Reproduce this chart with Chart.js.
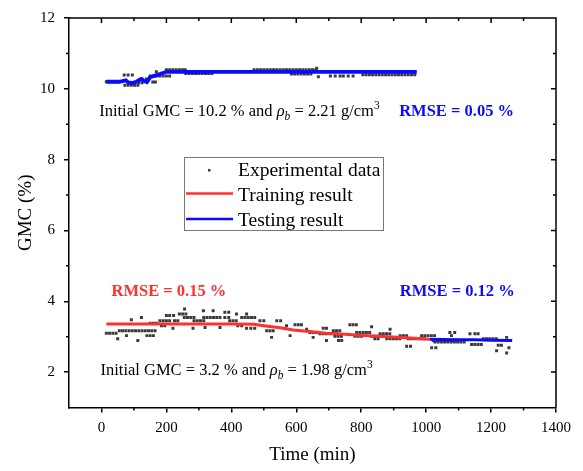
<!DOCTYPE html>
<html>
<head>
<meta charset="utf-8">
<script src="https://cdn.jsdelivr.net/npm/chart.js@4.4.4/dist/chart.umd.min.js"></script>
<style>
  html, body { margin: 0; padding: 0; background: #fff; }
  #wrap { width: 583px; height: 471px; }
</style>
</head>
<body>
<div id="wrap"><canvas id="chart"></canvas></div>
<script>
// ── Data ───────────────────────────────────────────────────────────────────
const xTicks = [0, 200, 400, 600, 800, 1000, 1200, 1400];
const xMinor = [100, 300, 500, 700, 900, 1100, 1300];
const yTicks = [2, 4, 6, 8, 10, 12];
const yMinor = [3, 5, 7, 9, 11];

// experimental points [time (min), GMC (%)], initial GMC 10.2 %
const expHigh = [
  [15,10.2],[25,10.2],[35,10.2],[45,10.2],[55,10.2],
  [70,10.39],[82,10.39],[95,10.39],
  [72,10.1],[82,10.1],[92,10.1],[102,10.1],[112,10.1],
  [85,10.17],[100,10.17],[115,10.17],[125,10.17],
  [125,10.28],[138,10.28],[158,10.19],[166,10.19],[169,10.48],
  [150,10.36],[160,10.36],[170,10.36],[180,10.36],[190,10.36],[200,10.36],[210,10.36],
  [200,10.54],[210,10.54],[220,10.54],[230,10.54],[240,10.54],[250,10.54],[258,10.54],
  [260,10.43],[270,10.43],[280,10.43],[290,10.43],[300,10.43],[310,10.43],[320,10.43],[330,10.43],[340,10.43],
  [470,10.54],[480,10.54],[490,10.54],[500,10.54],[510,10.54],[520,10.54],[530,10.54],[540,10.54],
  [550,10.54],[560,10.54],[570,10.54],[580,10.54],[590,10.54],[600,10.54],[610,10.54],[620,10.54],
  [630,10.54],[640,10.54],[650,10.54],[660,10.54],[663,10.58],
  [585,10.42],[595,10.42],[605,10.42],[615,10.42],[625,10.42],[635,10.42],[645,10.42],
  [668,10.34],
  [705,10.36],[720,10.36],[735,10.36],[745,10.36],[760,10.36],[775,10.36],
  [805,10.4],[815,10.4],[825,10.4],[835,10.4],[845,10.4],[855,10.4],[865,10.4],[875,10.4],[885,10.4],
  [895,10.4],[905,10.4],[915,10.4],[925,10.4],[935,10.4],[945,10.4],[955,10.4],[965,10.4],[965,10.47]
];

// experimental points [time (min), GMC (%)], initial GMC 3.2 %
const expLow = [
  [15,3.1],[25,3.1],[35,3.1],[45,3.1],[50,2.94],
  [55,3.17],[65,3.17],[75,3.17],[85,3.17],[95,3.17],[105,3.17],[115,3.17],[125,3.17],[135,3.17],[145,3.17],[155,3.17],[165,3.17],
  [77,3.03],[140,3.03],[150,3.03],[160,3.03],[112,2.89],[92,3.48],[123,3.54],
  [150,3.38],[160,3.38],[170,3.38],[185,3.31],[195,3.31],
  [180,3.45],[190,3.45],[200,3.45],[210,3.45],[200,3.6],[210,3.6],[222,3.6],
  [225,3.45],[235,3.45],[240,3.64],[250,3.64],[260,3.64],[256,3.78],[220,3.24],[282,3.24],
  [255,3.54],[265,3.54],[275,3.54],[285,3.54],[285,3.45],[295,3.45],[305,3.45],[315,3.45],
  [314,3.73],[344,3.73],[315,3.54],[325,3.54],[335,3.54],[345,3.54],[355,3.54],[365,3.54],
  [319,3.26],[365,3.26],[380,3.69],[392,3.69],[380,3.54],[392,3.54],
  [395,3.45],[405,3.45],[415,3.45],[416,3.64],[447,3.64],[420,3.31],[432,3.31],
  [432,3.54],[442,3.54],[452,3.54],[462,3.54],[472,3.54],[447,3.24],[460,3.24],[472,3.24],
  [488,3.45],[500,3.45],[509,3.17],[519,3.17],[529,3.17],[524,2.98],[540,3.45],[552,3.45],
  [570,3.31],[581,3.03],[596,3.34],[606,3.34],[616,3.34],[632,3.21],
  [642,3.12],[652,3.12],[662,3.12],[652,2.98],[683,3.24],[693,3.24],
  [673,3.08],[683,3.08],[693,3.08],[703,3.08],[713,3.08],[723,3.08],[693,2.89],
  [714,3.17],[724,3.17],[734,3.17],[719,3.01],[729,3.01],[739,3.01],[730,2.89],[740,2.89],
  [765,3.34],[775,3.34],[785,3.34],[786,3.12],[796,3.12],[806,3.12],[816,3.12],[826,3.12],
  [781,3.01],[791,3.01],[801,3.01],[832,3.28],[832,3.01],[842,3.01],[852,3.01],[842,2.94],[852,2.94],
  [858,3.08],[868,3.08],[878,3.08],[888,3.08],[889,3.21],
  [879,2.94],[889,2.94],[899,2.94],[909,2.94],[919,2.94],[920,3.03],[930,3.03],[940,3.03],
  [940,2.73],[952,2.73],[945,2.94],[955,2.94],[965,2.94],[975,2.94],[985,2.94],[995,2.94],
  [986,3.03],[996,3.03],[1006,3.03],[1016,3.03],[1026,3.03],[1017,2.69],[1030,2.69],
  [1022,2.89],[1032,2.89],[1042,2.89],[1052,2.89],[1062,2.89],[1072,2.89],[1082,2.89],[1092,2.89],
  [1027,2.85],[1037,2.85],[1047,2.85],[1057,2.85],[1067,2.85],[1077,2.85],[1087,2.85],[1097,2.85],[1107,2.85],[1117,2.85],
  [1073,3.12],[1088,3.12],[1078,3.03],[1135,3.08],[1150,3.08],[1160,3.08],
  [1140,2.78],[1150,2.78],[1160,2.78],[1170,2.78],
  [1176,2.94],[1186,2.94],[1196,2.94],[1206,2.94],[1216,2.94],[1222,2.76],[1232,2.76],
  [1217,2.6],[1248,2.98],[1248,2.54],[1255,2.69]
];

// model results [time (min), GMC (%)]
const trainLow = [
  [15,3.36],[100,3.36],[200,3.36],[300,3.36],[400,3.36],[470,3.35],[500,3.31],[550,3.25],
  [590,3.19],[650,3.14],[693,3.1],[750,3.07],[796,3.04],[850,3.01],[899,2.99],[950,2.96],[1010,2.93]
];
const testLow = [[1010,2.93],[1050,2.92],[1100,2.91],[1150,2.91],[1200,2.9],[1265,2.89]];
const testHigh = [
  [15,10.2],[55,10.2],[65,10.22],[75,10.24],[82,10.18],[95,10.16],[107,10.2],[122,10.28],
  [132,10.22],[140,10.19],[150,10.33],[175,10.4],[200,10.48],[971,10.48]
];

// ── Style ──────────────────────────────────────────────────────────────────
const SERIF = '"Liberation Serif", "Times New Roman", serif';
const GRAY = '#3a3a3a';
const RED  = '#ff3030';
const BLUE = '#0a0aff';

const pts = arr => arr.map(([x, y]) => ({ x, y }));

const scatterSet = (data) => ({
  data: pts(data), showLine: false, pointStyle: 'rect',
  pointRadius: 2.1, backgroundColor: GRAY, borderWidth: 0, order: 3,
});
const lineSet = (data, color, width) => ({
  data: pts(data), showLine: true, borderColor: color, borderWidth: width,
  pointRadius: 0, tension: 0, order: 1,
});

// ── Decorations: frame, minor ticks, titles, notes, legend ─────────────────
function drawRich(ctx, x, y, parts) {
  let cx = x;
  for (const p of parts) {
    ctx.font = p.font;
    ctx.fillStyle = p.color || '#000';
    ctx.fillText(p.t, cx, y + (p.dy || 0));
    cx += ctx.measureText(p.t).width;
  }
}

const notes = [
  { x: -7, y: 9.24, top: '10.2', rho: '2.21' },
  { x: -3, y: 1.91, top: '3.2',  rho: '1.98' },
];
const rmse = [
  { x: 917, y: 9.24, t: 'RMSE = 0.05 %', color: BLUE },
  { x: 31,  y: 4.15, t: 'RMSE = 0.15 %', color: RED },
  { x: 919, y: 4.15, t: 'RMSE = 0.12 %', color: BLUE },
];

const decor = {
  id: 'decor',
  afterDraw(chart) {
    const { ctx, chartArea: a, scales: { x, y } } = chart;
    ctx.save();
    ctx.strokeStyle = '#000';
    ctx.lineWidth = 1.5;
    ctx.beginPath();
    ctx.moveTo(a.left, a.top); ctx.lineTo(a.right, a.top); ctx.lineTo(a.right, a.bottom);
    xTicks.forEach(v => { const p = x.getPixelForValue(v); ctx.moveTo(p, a.top); ctx.lineTo(p, a.top + 5); });
    xMinor.forEach(v => {
      const p = x.getPixelForValue(v);
      ctx.moveTo(p, a.top); ctx.lineTo(p, a.top + 3);
      ctx.moveTo(p, a.bottom); ctx.lineTo(p, a.bottom + 3);
    });
    yTicks.forEach(v => { const p = y.getPixelForValue(v); ctx.moveTo(a.right, p); ctx.lineTo(a.right - 5, p); });
    yMinor.forEach(v => {
      const p = y.getPixelForValue(v);
      ctx.moveTo(a.left, p); ctx.lineTo(a.left - 3, p);
      ctx.moveTo(a.right, p); ctx.lineTo(a.right - 3, p);
    });
    ctx.stroke();

    // axis titles
    ctx.fillStyle = '#000';
    ctx.font = `19px ${SERIF}`;
    ctx.textAlign = 'center';
    ctx.textBaseline = 'alphabetic';
    ctx.fillText('Time (min)', (a.left + a.right) / 2, 460);
    ctx.save();
    ctx.translate(26.5, (a.top + a.bottom) / 2);
    ctx.rotate(-Math.PI / 2);
    ctx.textBaseline = 'middle';
    ctx.fillText('GMC (%)', 0, 0);
    ctx.restore();

    // notes
    ctx.textAlign = 'left';
    ctx.textBaseline = 'alphabetic';
    const f = `16.5px ${SERIF}`, fi = `italic 16.5px ${SERIF}`, fs = `italic 11.5px ${SERIF}`, fn = `11.5px ${SERIF}`;
    notes.forEach(n => {
      drawRich(ctx, x.getPixelForValue(n.x), y.getPixelForValue(n.y), [
        { t: `Initial GMC = ${n.top} % and `, font: f },
        { t: 'ρ', font: fi },
        { t: 'b', font: fs, dy: 4 },
        { t: ` = ${n.rho} g/cm`, font: f },
        { t: '3', font: fn, dy: -7 },
      ]);
    });
    ctx.font = `bold 16.5px ${SERIF}`;
    rmse.forEach(r => {
      ctx.fillStyle = r.color;
      ctx.fillText(r.t, x.getPixelForValue(r.x), y.getPixelForValue(r.y));
    });

    // legend
    const lx = 184, ly = 157, lw = 199, lh = 73;
    ctx.fillStyle = '#fff';
    ctx.fillRect(lx, ly, lw, lh);
    ctx.strokeStyle = '#777';
    ctx.lineWidth = 1;
    ctx.strokeRect(lx + 0.5, ly + 0.5, lw, lh);
    ctx.font = `19.5px ${SERIF}`;
    ctx.fillStyle = '#000';
    ctx.fillText('Experimental data', 238, 176);
    ctx.fillText('Training result', 238, 200.5);
    ctx.fillText('Testing result', 238, 225.5);
    ctx.fillStyle = GRAY;
    ctx.fillRect(208, 169, 2.5, 2.5);
    ctx.lineWidth = 2.5;
    ctx.strokeStyle = RED;
    ctx.beginPath(); ctx.moveTo(186, 193.5); ctx.lineTo(233, 193.5); ctx.stroke();
    ctx.strokeStyle = BLUE;
    ctx.beginPath(); ctx.moveTo(186, 219); ctx.lineTo(233, 219); ctx.stroke();
    ctx.restore();
  },
};

// ── Chart ──────────────────────────────────────────────────────────────────
const axisGrid = { display: true, drawOnChartArea: false, drawTicks: true, tickLength: 5, color: '#000', lineWidth: 1.5 };
const axisBorder = { display: true, color: '#000', width: 1.5 };

new Chart(document.getElementById('chart'), {
  type: 'scatter',
  data: {
    datasets: [
      scatterSet(expHigh),
      scatterSet(expLow),
      lineSet(trainLow, RED, 3),
      lineSet(testLow, BLUE, 3),
      lineSet(testHigh, BLUE, 3.8),
    ],
  },
  options: {
    responsive: true,
    maintainAspectRatio: false,
    animation: false,
    layout: { padding: { left: 0, top: 15, right: 27, bottom: 0 } },
    plugins: { legend: { display: false }, tooltip: { enabled: false } },
    scales: {
      x: {
        type: 'linear', min: -100, max: 1400,
        afterBuildTicks: s => { s.ticks = xTicks.map(v => ({ value: v })); },
        afterFit: s => { s.height = 63.5; },
        grid: axisGrid, border: axisBorder,
        ticks: { color: '#000', font: { family: SERIF, size: 15 }, padding: 7, maxRotation: 0, callback: v => String(v) },
      },
      y: {
        type: 'linear', min: 1, max: 12,
        afterBuildTicks: s => { s.ticks = yTicks.map(v => ({ value: v })); },
        afterFit: s => { s.width = 69; },
        grid: axisGrid, border: axisBorder,
        ticks: { color: '#000', font: { family: SERIF, size: 15 }, padding: 9, callback: v => String(v) },
      },
    },
  },
  plugins: [decor],
});
</script>
</body>
</html>
